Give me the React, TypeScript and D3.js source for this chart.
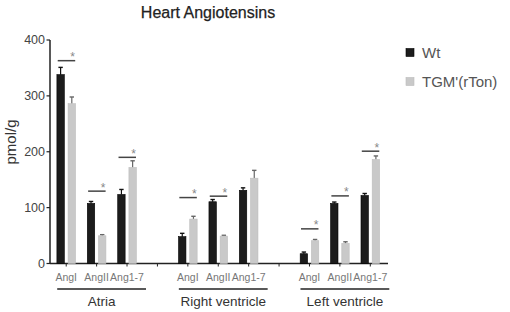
import React from "react";
import * as d3 from "d3";

const categories = ["AngI", "AngII", "Ang1-7"];
const groups = ["Atria", "Right ventricle", "Left ventricle"];
const seriesNames = ["Wt", "TGM'(rTon)"];
const wtValues = [338, 107.5, 123.5, 48, 110.5, 131, 17.5, 107.5, 121.7];
const wtErrors = [13, 3.5, 9, 6, 4, 4.4, 3, 2.5, 3.6];
const tgValues = [286, 49.6, 171.8, 79.5, 49, 152.7, 40.8, 36, 186];
const tgErrors = [12, 2, 12, 5, 1.5, 14, 2.2, 2.9, 6.5];
const sigIndex = [0, 1, 2, 3, 4, 6, 7, 8];
const sigLevels = [363, 129.5, 190, 118, 120.5, 62, 121, 201];
const yTicks = [0, 100, 200, 300, 400];
const title = "Heart Angiotensins";
const yLabel = "pmol/g";

const W = 510;
const H = 312;
const FONT = "'Liberation Sans', Arial, Helvetica, sans-serif";
const BLACK = "#1c1c1c";
const GRAY = "#c9c9c9";

export default function App() {
  const slots = d3.range(groups.length * (categories.length + 1) - 1);
  const x = d3.scaleBand<number>().domain(slots).range([51, 385.5]).padding(0);
  const y = d3.scaleLinear().domain([0, 400]).range([263.5, 40]);
  const slotOf = (i: number) => Math.floor(i / categories.length) * (categories.length + 1) + (i % categories.length);
  const cx = (i: number) => (x(slotOf(i)) as number) + x.bandwidth() / 2;
  const bw = 7.4;
  const off = 5.6;

  const bars = [
    { vals: wtValues, errs: wtErrors, color: BLACK, dx: -off, errColor: "#111" },
    { vals: tgValues, errs: tgErrors, color: GRAY, dx: off, errColor: "#666" },
  ];

  return (
    <svg width={W} height={H} style={{ position: "absolute", left: 0, top: 0, background: "#fff" }} fontFamily={FONT}>
      <text x={208} y={18} textAnchor="middle" fontSize={16} fill="#222" stroke="#222" strokeWidth={0.25}>{title}</text>

      {/* y axis */}
      <line x1={50} x2={50} y1={y(400)} y2={y(0)} stroke="#222" strokeWidth={1.5} />
      {yTicks.map((t) => (
        <g key={t}>
          <line x1={46.5} x2={50} y1={y(t)} y2={y(t)} stroke="#222" strokeWidth={1.2} />
          <text x={45} y={y(t)} dy="0.35em" textAnchor="end" fontSize={12.5} fill="#444">{t}</text>
        </g>
      ))}
      <text transform={`translate(16,142) rotate(-90)`} textAnchor="middle" fontSize={15} fill="#333">{yLabel}</text>

      {/* x axis */}
      <line x1={50} x2={388} y1={y(0)} y2={y(0)} stroke="#222" strokeWidth={1.5} />
      {slots.map((s) => (
        <line key={s} x1={(x(s) as number) + x.bandwidth() / 2} x2={(x(s) as number) + x.bandwidth() / 2} y1={y(0)} y2={y(0) + 3} stroke="#222" strokeWidth={1} />
      ))}

      {/* bars */}
      {bars.map((b, si) =>
        b.vals.map((v, i) => {
          const xc = cx(i) + b.dx;
          const top = y(v);
          const et = y(v + b.errs[i]);
          return (
            <g key={`${si}-${i}`}>
              <line x1={xc} x2={xc} y1={top} y2={et} stroke={b.errColor} strokeWidth={1.2} />
              <line x1={xc - 2.2} x2={xc + 2.2} y1={et} y2={et} stroke={b.errColor} strokeWidth={1.4} />
              <rect x={xc - bw / 2} y={top} width={bw} height={y(0) - top} fill={b.color} stroke={si === 0 ? "#000" : "#bdbdbd"} strokeWidth={0.6} />
            </g>
          );
        })
      )}

      {/* significance */}
      {sigIndex.map((idx, k) => {
        const c = cx(idx);
        const ly = y(sigLevels[k]);
        return (
          <g key={`sig-${k}`}>
            <line x1={c - 8.5} x2={c + 9} y1={ly} y2={ly} stroke="#444" strokeWidth={1.5} />
            <text x={c + 6.5} y={ly + 0.5} textAnchor="middle" fontSize={12} fill="#888">*</text>
          </g>
        );
      })}

      {/* category labels */}
      {groups.map((g, gi) =>
        categories.map((c, ci) => {
          const i = gi * categories.length + ci;
          return (
            <text key={`${g}-${c}`} x={cx(i)} y={280.5} textAnchor="middle" fontSize={10.5} fill="#777">{c}</text>
          );
        })
      )}

      {/* group labels */}
      {groups.map((g, gi) => {
        const x0 = cx(gi * categories.length) - 9;
        const x1 = cx(gi * categories.length + categories.length - 1) + 19;
        return (
          <g key={g}>
            <line x1={x0} x2={x1} y1={289} y2={289} stroke="#222" strokeWidth={1.5} />
            <text x={(x0 + x1) / 2} y={306} textAnchor="middle" fontSize={13.5} fill="#333">{g}</text>
          </g>
        );
      })}

      {/* legend */}
      {seriesNames.map((n, i) => (
        <g key={n} transform={`translate(406,${48.5 + i * 29})`}>
          <rect x={0} y={0} width={8} height={8} fill={i === 0 ? BLACK : GRAY} stroke={i === 0 ? "#000" : "#bbb"} strokeWidth={0.6} />
          <text x={16} y={4} dy="0.36em" fontSize={15} fill="#555">{n}</text>
        </g>
      ))}
    </svg>
  );
}
